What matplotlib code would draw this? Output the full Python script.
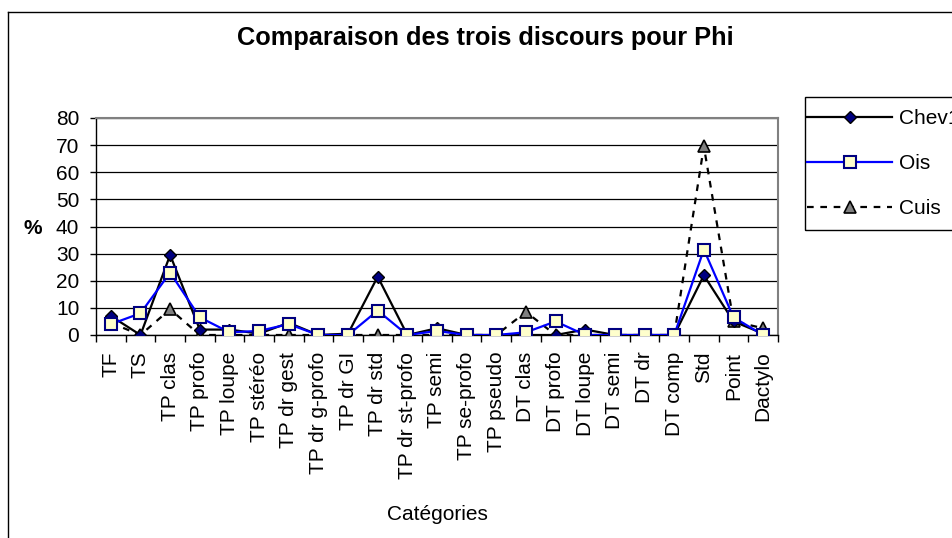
import matplotlib
matplotlib.use("Agg")
import matplotlib.pyplot as plt
from matplotlib.lines import Line2D
from matplotlib.patches import Rectangle

plt.rcParams['font.family'] = ['Liberation Sans', 'DejaVu Sans']

categories = ["TF", "TS", "TP clas", "TP profo", "TP loupe", "TP stéréo", "TP dr gest",
              "TP dr g-profo", "TP dr GI", "TP dr std", "TP dr st-profo", "TP semi",
              "TP se-profo", "TP pseudo", "DT clas", "DT profo", "DT loupe", "DT semi",
              "DT dr", "DT comp", "Std", "Point", "Dactylo"]
chev1 = [7, 0, 29.5, 2, 2, 0.5, 4.5, 0, 0.5, 21.5, 0, 2.5, 0, 0, 0, 0, 2, 0, 0, 0, 22, 5, 0.5]
ois = [4, 8, 23, 6.5, 1, 1.5, 4, 0, 0, 9, 0, 1.5, 0, 0, 1, 5, 0, 0, 0, 0, 31.5, 6.5, 0]
cuis = [4.5, 0, 9.5, 0, 0, 0, 0, 0, 0, 0, 0, 0, 0, 0, 8.5, 0, 0, 0, 0, 0, 69.5, 5, 2.5]
yticks = [0, 10, 20, 30, 40, 50, 60, 70, 80]

W, H = 953, 538
fs = 15
fig = plt.figure(figsize=(W / 100, H / 100), dpi=100)
ax = fig.add_axes([96 / W, 1 - 335 / H, (778 - 96) / W, (335 - 118) / H])

x = list(range(len(categories)))
ax.plot(x, cuis, color='black', lw=1.6, ls=(0, (3, 3)), marker='^', ms=8,
        mfc='#808080', mec='black', mew=1.2, label='Cuis', zorder=3)
ax.plot(x, chev1, color='black', lw=1.6, marker='D', ms=6.5,
        mfc='#000080', mec='black', mew=1, label='Chev1', zorder=4)
ax.plot(x, ois, color='#0000FF', lw=1.6, marker='s', ms=8,
        mfc='#FFFFCC', mec='#000080', mew=1.5, label='Ois', zorder=5)

ax.set_xlim(-0.5, len(categories) - 0.5)
ax.set_ylim(0, 80)
ax.set_yticks(yticks)
ax.yaxis.grid(True, color='black', lw=0.9)
ax.set_axisbelow(True)

ax.set_xticks(x)
ax.set_xticklabels(categories, rotation=90, fontsize=fs)
ax.set_xticks([i - 0.5 for i in range(len(categories) + 1)], minor=True)
ax.tick_params(axis='x', which='major', length=0, pad=12)
ax.tick_params(axis='x', which='minor', length=5, width=1, direction='out')
ax.tick_params(axis='y', length=4, width=1, direction='out', labelsize=fs, pad=8)

for s in ['top', 'right']:
    ax.spines[s].set_color('#808080')
    ax.spines[s].set_linewidth(1.5)
for s in ['left', 'bottom']:
    ax.spines[s].set_color('black')
    ax.spines[s].set_linewidth(1)

fig.text(485 / W, 1 - 38 / H, "Comparaison des trois discours pour Phi",
         fontsize=18.3, fontweight='bold', ha='center', va='center')
fig.text(33 / W, 1 - 228 / H, "%", fontsize=fs, fontweight='bold',
         ha='center', va='center')
fig.text(437 / W, 1 - 515 / H, "Catégories", fontsize=fs, ha='center', va='center')

# outer chart frame
fig.add_artist(Line2D([8 / W, 8 / W], [0, 1 - 12 / H], color='black', lw=1,
                      transform=fig.transFigure))
fig.add_artist(Line2D([8 / W, 1], [1 - 12 / H, 1 - 12 / H], color='black', lw=1,
                      transform=fig.transFigure))

# legend box, runs past the right edge like the original
fig.add_artist(Rectangle((805 / W, 1 - 230 / H), 200 / W, 133 / H, fill=False,
                         edgecolor='black', lw=1, transform=fig.transFigure))
handles, labels = ax.get_legend_handles_labels()
order = [1, 2, 0]
leg = fig.legend([handles[i] for i in order], [labels[i] for i in order],
                 loc='upper left', bbox_to_anchor=(807 / W, 1 - 109 / H),
                 fontsize=fs, frameon=False, handlelength=4.1,
                 handletextpad=0.3, labelspacing=1.25, borderpad=0,
                 borderaxespad=0)

fig.savefig("out.png", dpi=100)
